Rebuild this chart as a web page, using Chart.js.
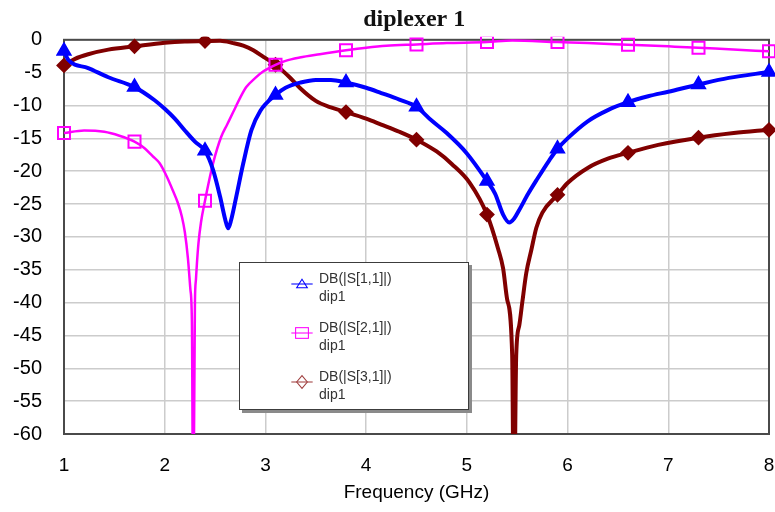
<!DOCTYPE html>
<html>
<head>
<meta charset="utf-8">
<script src="https://cdn.jsdelivr.net/npm/chart.js@4.4.1/dist/chart.umd.min.js"></script>
<style>
  body { margin: 0; background: #fff; }
  #wrap { position: relative; width: 775px; height: 512px; }
  #legend {
    position: absolute; left: 239px; top: 262px; width: 228px; height: 146px;
    background: #fff; border: 1px solid #3c3c3c; box-shadow: 3px 3px 0 #8a8a8a;
    font: 14px "Liberation Sans", Arial, sans-serif; color: #333;
  }
  #legend .row { position: absolute; left: 0; width: 100%; height: 40px; }
  #legend svg { position: absolute; left: 51px; top: 7px; }
  #legend .t { position: absolute; left: 79px; white-space: nowrap; line-height: 18px; }
</style>
</head>
<body>
<div id="wrap">
  <canvas id="chart" width="775" height="512"></canvas>
  <div id="legend"></div>
</div>
<script>
// ---- data ----
const xTicks = [1, 2, 3, 4, 5, 6, 7, 8];
const yTicks = [0, -5, -10, -15, -20, -25, -30, -35, -40, -45, -50, -55, -60];
const markerFreqs = [1.0, 1.7, 2.4, 3.1, 3.8, 4.5, 5.2, 5.9, 6.6, 7.3, 8.0];

const seriesNames = ["DB(|S[1,1]|)", "DB(|S[2,1]|)", "DB(|S[3,1]|)"];
const seriesSub = "dip1";

const s11Freq = [1.0, 1.04, 1.24, 1.44, 1.7, 1.9, 2.0, 2.1, 2.2, 2.3, 2.4, 2.48, 2.55, 2.6, 2.63, 2.66, 2.71, 2.78, 2.86, 2.95,
  3.1, 3.2, 3.35, 3.5, 3.65, 3.8, 4.0, 4.15, 4.33, 4.5, 4.65, 4.8, 5.0, 5.2, 5.28, 5.36, 5.42, 5.47, 5.52, 5.61,
  5.69, 5.82, 5.9, 6.0, 6.2, 6.4, 6.6, 6.8, 7.0, 7.3, 7.6, 8.0];
const s11Db = [-1.7, -3.0, -4.3, -5.7, -7.2, -9.2, -10.5, -12.0, -13.8, -15.5, -16.9, -19.8, -23.9, -27.3, -28.7, -27.4, -23.9, -18.8, -13.8, -10.8,
  -8.4, -7.3, -6.5, -6.1, -6.1, -6.5, -7.3, -8.1, -9.1, -10.2, -12.3, -14.2, -17.3, -21.5, -23.4, -26.6, -27.8, -27.2, -25.9, -23.4,
  -21.4, -18.3, -16.6, -15.0, -12.4, -10.7, -9.5, -8.6, -7.9, -6.8, -5.8, -4.9];

const s21Freq = [1.0, 1.2, 1.4, 1.55, 1.7, 1.8, 1.88, 1.95, 2.02, 2.08, 2.13, 2.17, 2.2, 2.23, 2.255, 2.27, 2.283, 2.3, 2.31, 2.32,
  2.335, 2.36, 2.4, 2.44, 2.48, 2.56, 2.62, 2.68, 2.75, 2.81, 2.9, 2.98, 3.1, 3.2, 3.34, 3.54, 3.8, 4.0, 4.2, 4.5,
  4.8, 5.2, 5.45, 5.9, 6.2, 6.6, 7.0, 7.3, 7.6, 8.0];
const s21Db = [-14.2, -13.8, -14.0, -14.6, -15.5, -16.5, -17.7, -18.8, -20.8, -22.9, -24.8, -26.9, -29.3, -33.2, -38, -43, -75, -40, -36.5, -34,
  -31, -27.8, -24.5, -21.5, -18.8, -14.8, -12.9, -11.0, -8.8, -7.2, -5.8, -4.8, -3.8, -3.2, -2.7, -2.2, -1.6, -1.2, -0.9, -0.7,
  -0.5, -0.35, -0.1, -0.35, -0.5, -0.75, -1.0, -1.2, -1.45, -1.75];

const s31Freq = [1.0, 1.11, 1.24, 1.44, 1.7, 2.0, 2.2, 2.4, 2.55, 2.68, 2.78, 2.88, 2.98, 3.1, 3.24, 3.34, 3.5, 3.65, 3.8, 4.0,
  4.15, 4.33, 4.5, 4.7, 4.85, 5.03, 5.2, 5.31, 5.36, 5.4, 5.45, 5.467, 5.49, 5.52, 5.55, 5.59, 5.64, 5.69, 5.75, 5.9,
  6.0, 6.2, 6.4, 6.6, 6.9, 7.3, 7.65, 8.0];
const s31Db = [-3.9, -2.9, -2.2, -1.5, -1.0, -0.45, -0.25, -0.2, -0.15, -0.5, -0.9, -1.6, -2.6, -3.8, -5.7, -7.3, -9.3, -10.3, -11.0, -12.0,
  -12.9, -14.0, -15.2, -17.0, -18.9, -21.8, -26.6, -31.8, -34.8, -39.5, -48, -75, -48, -43.5, -40, -35.5, -32, -28.6, -26.3, -23.6,
  -21.8, -19.5, -18.1, -17.2, -16.0, -14.9, -14.2, -13.7];

const colors = ["#0000ff", "#ff00ff", "#800000"];

// ---- helpers ----
const toPoints = (xs, ys) => xs.map((x, i) => ({ x: x, y: ys[i] }));
const isMarker = x => markerFreqs.some(m => Math.abs(m - x) < 1e-6);
const markerSize = r => ctx => (ctx.raw && isMarker(ctx.raw.x)) ? r : 0;

function series(label, xs, ys, color, width, style, radius, fill) {
  return {
    label: label,
    data: toPoints(xs, ys),
    borderColor: color,
    borderWidth: width,
    cubicInterpolationMode: "monotone",
    pointStyle: style,
    pointRadius: markerSize(radius),
    pointHoverRadius: 0,
    pointBorderWidth: 2,
    pointBorderColor: color,
    pointBackgroundColor: fill ? color : "rgba(0,0,0,0)",
    clip: { left: 8, top: 3, right: 8, bottom: 0 }
  };
}

// plot frame (all four sides, like the original)
const framePlugin = {
  id: "frame",
  beforeDatasetsDraw(chart) {
    const { ctx, chartArea: a } = chart;
    ctx.save();
    ctx.strokeStyle = "#4a4a4a";
    ctx.lineWidth = 2;
    ctx.strokeRect(a.left, a.top, a.right - a.left, a.bottom - a.top);
    ctx.restore();
  }
};

// keep the plot's right edge 6px from the canvas edge
const rightEdgePlugin = {
  id: "rightEdge",
  afterLayout(chart) {
    const a = chart.chartArea;
    const target = chart.width - 6;
    if (Math.abs(a.right - target) < 0.5) return;
    a.right = target;
    a.width = a.right - a.left;
    const x = chart.scales.x;
    x.right = target;
    x.width = x.right - x.left;
    x.configure();
  }
};

const sans = "'Liberation Sans', Arial, sans-serif";

new Chart(document.getElementById("chart"), {
  type: "line",
  data: {
    datasets: [
      series(seriesNames[0], s11Freq, s11Db, colors[0], 4, "triangle", 7.5, true),
      series(seriesNames[1], s21Freq, s21Db, colors[1], 2.5, "rect", 8.5, false),
      series(seriesNames[2], s31Freq, s31Db, colors[2], 4, "rectRot", 6.5, true)
    ]
  },
  options: {
    responsive: false,
    animation: false,
    events: [],
    layout: { padding: { left: 0, right: 1, top: 0, bottom: 0 } },
    plugins: {
      legend: { display: false },
      tooltip: { enabled: false },
      title: {
        display: true,
        fullSize: false,
        text: "diplexer 1",
        color: "#111",
        font: { family: "'Liberation Serif', 'Times New Roman', serif", size: 24, weight: "bold", lineHeight: 1.2 },
        padding: { top: 5, bottom: 6 }
      }
    },
    scales: {
      x: {
        type: "linear",
        min: 1, max: 8,
        afterBuildTicks: s => { s.ticks = xTicks.map(v => ({ value: v })); },
        afterFit: s => { s.height = 78; s.paddingLeft = 0; s.paddingRight = 0; },
        grid: { color: "#cccccc", lineWidth: 1.5, drawTicks: false },
        border: { display: false },
        ticks: { color: "#000", padding: 20, font: { family: sans, size: 19 } },
        title: {
          display: true,
          text: "Frequency (GHz)",
          color: "#000",
          font: { family: sans, size: 19, lineHeight: 1.2 },
          padding: { top: 0, bottom: 8 }
        }
      },
      y: {
        type: "linear",
        min: -60, max: 0,
        afterBuildTicks: s => { s.ticks = yTicks.map(v => ({ value: v })); },
        afterFit: s => { s.width = 64; },
        grid: { color: "#cccccc", lineWidth: 1.5, drawTicks: false },
        border: { display: false },
        ticks: { color: "#000", padding: 22, font: { family: sans, size: 20 } }
      }
    }
  },
  plugins: [framePlugin, rightEdgePlugin]
});

// ---- legend box ----
const symbols = [
  '<polygon points="10,3 15,11 5,11" fill="none" stroke="#0000ff" stroke-width="1"/>',
  '<rect x="4" y="2.5" width="12" height="10" fill="none" stroke="#ff00ff" stroke-width="1"/>',
  '<polygon points="10,1.5 15,7.5 10,13.5 5,7.5" fill="none" stroke="#a04040" stroke-width="1"/>'
];
const lineColors = ["#0000ff", "#ff00ff", "#a04040"];
const legendEl = document.getElementById("legend");
seriesNames.forEach((name, i) => {
  const row = document.createElement("div");
  row.className = "row";
  row.style.top = (6 + i * 49) + "px";
  row.innerHTML =
    '<svg width="22" height="16" viewBox="0 0 20 15">' +
    '<line x1="0" y1="7.5" x2="20" y2="7.5" stroke="' + lineColors[i] + '" stroke-width="1"/>' +
    symbols[i] + '</svg>' +
    '<div class="t" style="top:0">' + name + '</div>' +
    '<div class="t" style="top:18px">' + seriesSub + '</div>';
  legendEl.appendChild(row);
});
</script>
</body>
</html>
